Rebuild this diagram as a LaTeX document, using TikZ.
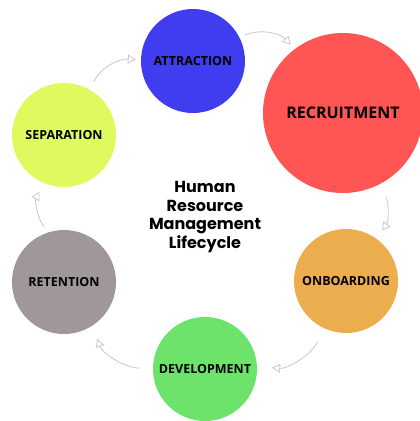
\documentclass[tikz,border=0pt]{standalone}
\usepackage{fontspec}
\usetikzlibrary{arrows.meta}
\newfontfamily\stagefont{Open Sans}
\newfontfamily\titlefont{Poppins}
\definecolor{attrblue}{RGB}{64,60,240}
\definecolor{recrred}{RGB}{255,85,85}
\definecolor{onbgold}{RGB}{235,173,77}
\definecolor{devgreen}{RGB}{110,227,108}
\definecolor{retgray}{RGB}{160,152,152}
\definecolor{sepyellow}{RGB}{223,250,95}
\definecolor{arrowgray}{RGB}{200,200,200}
\begin{document}
\begin{tikzpicture}[x=1pt,y=-1pt,
    stage/.style={circle,inner sep=0pt,minimum size=104pt,
      font=\stagefont\bfseries\fontsize{12.5}{14}\selectfont},
    flow/.style={draw=arrowgray,line width=0.8pt,bend left=35,
      -{Triangle[open,length=8pt,width=9pt]}}]
                \useasboundingbox (0,0) rectangle (420,421);
                \node[stage,fill=attrblue] (attr) at (193,61) {ATTRACTION};
                \node[stage,fill=recrred,minimum size=160pt,
                  font=\stagefont\bfseries\fontsize{16}{18}\selectfont] (recr) at (343,113) {\raisebox{-3pt}{RECRUITMENT}};
                \node[stage,fill=onbgold] (onb) at (346,281) {ONBOARDING};
                \node[stage,fill=devgreen] (dev) at (205,369) {DEVELOPMENT};
                \node[stage,fill=retgray] (ret) at (64,282) {RETENTION};
                \node[stage,fill=sepyellow] (sep) at (64,135) {SEPARATION};
                \node[align=center,font=\titlefont\bfseries\fontsize{16}{18.5}\selectfont] (title) at (205,217)
                  {Human\\Resource\\Management\\Lifecycle};
                \draw[flow,shorten <=6pt,shorten >=6pt] (attr.27) to (recr.127);
                \draw[flow,shorten <=14pt,shorten >=10pt] (recr.-64) to (onb.55);
                \draw[flow,shorten <=15pt,shorten >=15pt] (onb.-115) to (dev.3);
                \draw[flow,shorten <=13pt,shorten >=14pt] (dev.179) to (ret.-57);
                \draw[flow,shorten <=7pt,shorten >=10pt] (ret.107) to (sep.-112);
                \draw[flow,shorten <=9pt,shorten >=5pt] (sep.60) to (attr.179);
            \end{tikzpicture}
\end{document}
